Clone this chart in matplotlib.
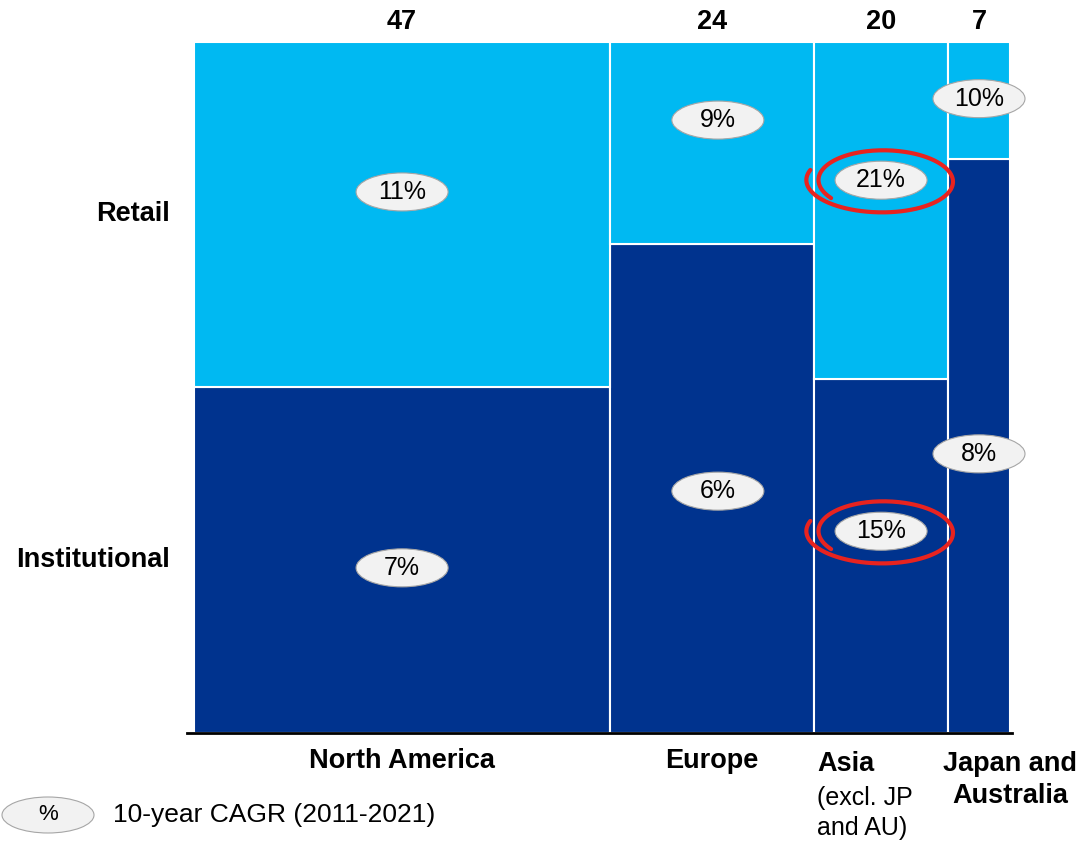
import numpy as np
import matplotlib
matplotlib.use("Agg")
import matplotlib.pyplot as plt
from matplotlib.patches import Ellipse

plt.rcParams['font.family'] = ['Liberation Sans', 'DejaVu Sans']

# data
regions = ["North America", "Europe", "Asia", "Japan and\nAustralia"]
totals = ["47", "24", "20", "7"]
col_width = [51.0, 25.0, 16.4, 7.6]        # share of chart width (%)
retail_share = [49.9, 29.2, 48.8, 16.9]    # % of column that is retail
inst_share = [100 - r for r in retail_share]
retail_cagr = ["11%", "9%", "21%", "10%"]
inst_cagr = ["7%", "6%", "15%", "8%"]

# label placement (layout only)
retail_lbl_y = [78.3, 88.7, 80.0, 91.8]
inst_lbl_y = [23.9, 35.0, 29.2, 40.4]
lbl_dx = [0, 0.7, 0, 0]

light = '#00B9F2'
dark = '#00338E'
BOLD = 19.5
REG = 18

W, H = 1079, 841
fig = plt.figure(figsize=(W / 100, H / 100), dpi=100)
ax_l, ax_b, ax_w, ax_h = 194, 108, 816, 691
ax = fig.add_axes([ax_l / W, ax_b / H, ax_w / W, ax_h / H])
ax.set_xlim(0, 100)
ax.set_ylim(0, 100)
ax.axis('off')
px_x = 100 / ax_w   # data units per pixel
px_y = 100 / ax_h


def py(y_from_top):
    # pixel row (from top of image) -> data y
    return ((H - y_from_top) - ax_b) * px_y


def pxx(x):
    return (x - ax_l) * px_x


lefts = np.concatenate([[0], np.cumsum(col_width)[:-1]])
centers = lefts + np.array(col_width) / 2

ax.bar(lefts, inst_share, width=col_width, align='edge', color=dark,
       edgecolor='white', linewidth=1.5)
ax.bar(lefts, retail_share, width=col_width, bottom=inst_share, align='edge',
       color=light, edgecolor='white', linewidth=1.5)

# baseline
ax.plot([-7 * px_x, 100 + 2 * px_x], [0, 0], color='black', lw=2, clip_on=False)


def bubble(x, y, txt):
    e = Ellipse((x, y), 92 * px_x, 38 * px_y, facecolor='#F2F2F2',
                edgecolor='#A6A6A6', lw=0.8, clip_on=False, zorder=5)
    ax.add_patch(e)
    ax.text(x, y, txt, ha='center', va='center', fontsize=REG, zorder=6)


for i in range(len(regions)):
    bubble(centers[i] + lbl_dx[i], retail_lbl_y[i], retail_cagr[i])
    bubble(centers[i] + lbl_dx[i], inst_lbl_y[i], inst_cagr[i])
    ax.text(centers[i], py(22), totals[i], ha='center', va='center',
            fontsize=BOLD, fontweight='bold')


# hand-drawn red loops around Asia
def loop(cx, cy):
    t = np.radians(np.linspace(215, -200, 300))
    a = np.linspace(63, 77, t.size)
    b = np.linspace(30, 32, t.size)
    xs = cx + a * np.cos(t) * px_x
    ys = cy + b * np.sin(t) * px_y
    ax.plot(xs, ys, color='#E8231F', lw=3, solid_capstyle='round', zorder=7)


loop(centers[2] + 0.2, retail_lbl_y[2] - 0.1)
loop(centers[2] + 0.2, inst_lbl_y[2] - 0.1)

# row labels
ax.text(pxx(170), inst_share[0] + retail_share[0] / 2, "Retail", ha='right',
        va='center', fontsize=BOLD, fontweight='bold')
ax.text(pxx(170), inst_share[0] / 2, "Institutional", ha='right', va='center',
        fontsize=BOLD, fontweight='bold')

# region labels
ax.text(centers[0], py(761), regions[0], ha='center', va='center',
        fontsize=BOLD, fontweight='bold')
ax.text(centers[1], py(761), regions[1], ha='center', va='center',
        fontsize=BOLD, fontweight='bold')
ax.text(pxx(817), py(764), regions[2], ha='left', va='center',
        fontsize=BOLD, fontweight='bold')
ax.text(pxx(817), py(798), "(excl. JP", ha='left', va='center', fontsize=REG)
ax.text(pxx(817), py(828), "and AU)", ha='left', va='center', fontsize=REG)
ax.text(pxx(1010), py(764), regions[3].split('\n')[0], ha='center',
        va='center', fontsize=BOLD, fontweight='bold')
ax.text(pxx(1010), py(796), regions[3].split('\n')[1], ha='center',
        va='center', fontsize=BOLD, fontweight='bold')

# legend
lx, ly = pxx(48), py(815)
ax.add_patch(Ellipse((lx, ly), 92 * px_x, 36 * px_y, facecolor='#F2F2F2',
                     edgecolor='#A6A6A6', lw=0.8, clip_on=False))
ax.text(lx, ly, "%", ha='center', va='center', fontsize=16)
ax.text(pxx(113), ly, "10-year CAGR (2011-2021)", ha='left', va='center',
        fontsize=19)

fig.savefig('out.png', dpi=100)
